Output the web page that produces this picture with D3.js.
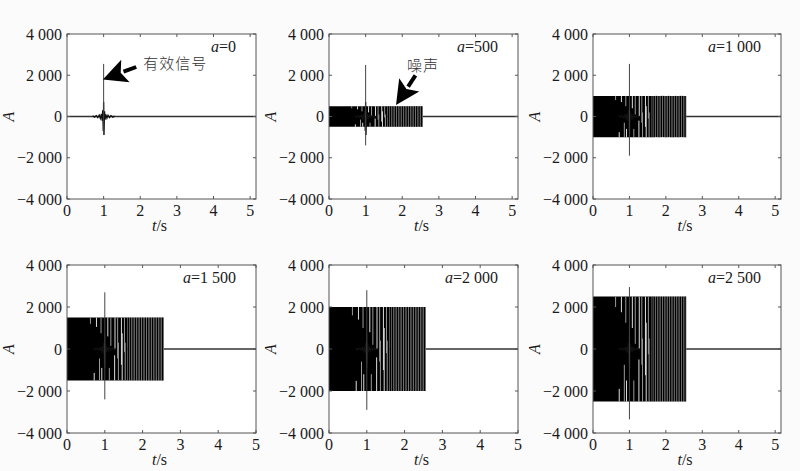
<!DOCTYPE html>
<html><head><meta charset="utf-8">
<script src="https://cdn.jsdelivr.net/npm/d3@7"></script>
<style>
body{margin:0;background:#fbfbfb}svg{display:block}
.serif{font-family:"Liberation Serif","DejaVu Serif",serif;font-size:16px;fill:#1a1a1a}
.cjk{font-family:"Noto Sans CJK SC",sans-serif;font-size:15px;font-weight:300;fill:#333}
</style>
</head><body><svg id="c" width="800" height="471"></svg>
<script>
// ---- data ----
const amplitudes = [0, 500, 1000, 1500, 2000, 2500];
const ampLabels = ["0", "500", "1 000", "1 500", "2 000", "2 500"];
const tDomainMax = [5.16, 5.16, 5.16, 5, 5, 5.16];
const tTicks = [0, 1, 2, 3, 4, 5];
const aTicks = [-4000, -2000, 0, 2000, 4000];
const aTickLabels = ["\u22124 000", "\u22122 000", "0", "2 000", "4 000"];
const spikeT = 1.0;
const spikeUp = [2550, 2500, 2550, 2700, 2800, 2950];
const spikeDown = [-900, -1400, -1900, -2400, -2900, -3350];
const noiseDenseSpan = [0, 1.6];
const noiseSparseSpan = [1.6, 2.55];
const noiseLinesDark = [1.62, 1.68, 1.745, 1.81, 1.875, 1.94, 2.005, 2.07, 2.135, 2.2, 2.265, 2.33, 2.395, 2.46, 2.525];
const noiseLinesLight = [1.65, 1.712, 1.778, 1.843, 1.908, 1.972, 2.038, 2.103, 2.168, 2.232, 2.298, 2.362, 2.428, 2.492, 2.545];
const gapTop = [[0.62,0.1],[0.78,0.15],[0.9,0.25],[1.08,0.3],[1.16,0.45],[1.27,0.5],[1.34,0.65],[1.44,0.75],[1.52,0.55]];
const gapBottom = [[0.72,0.12],[0.86,0.35],[0.92,0.2],[1.12,0.2],[1.26,0.4],[1.36,0.6],[1.46,0.75],[1.54,0.6]];
const waveletT = [0.7, 0.75, 0.8, 0.84, 0.88, 0.91, 0.94, 0.96, 0.975, 0.99, 1.0, 1.01, 1.025, 1.04, 1.06, 1.09, 1.12, 1.16, 1.2, 1.25, 1.3];
const waveletV = [30, -30, 40, -50, 70, -90, 120, -200, 300, -700, 700, -900, 250, -150, 100, -80, 60, -50, 40, -30, 20];
const annotations = [
  {panel: 0, text: "有效信号", tip: [0.98, 1800], tail: [1.89, 2400], label: [2.08, 2300]},
  {panel: 1, text: "噪声", tip: [1.83, 560], tail: [2.36, 1990], label: [2.13, 2210]}
];

// ---- layout ----
const colLeft = [67, 329, 593], colWidth = [189, 189, 188];
const rowTop = [34, 265], rowHeight = [165, 168];
const frameColor = "#555";

const svg = d3.select("#c");
svg.append("rect").attr("width", 800).attr("height", 471).attr("fill", "#fbfbfb");

amplitudes.forEach((a, i) => {
  const col = i % 3, row = Math.floor(i / 3);
  const W = colWidth[col], H = rowHeight[row];
  const x = d3.scaleLinear().domain([0, tDomainMax[i]]).range([0, W]);
  const y = d3.scaleLinear().domain([-4000, 4000]).range([H, 0]);
  const g = svg.append("g").attr("transform", `translate(${colLeft[col]},${rowTop[row]})`);
  const cid = "clip" + i;
  g.append("clipPath").attr("id", cid).append("rect").attr("width", W).attr("height", H);
  g.append("rect").attr("width", W).attr("height", H).attr("fill", "#fff");
  const p = g.append("g").attr("clip-path", `url(#${cid})`);

  // baseline
  p.append("path").datum([0, tDomainMax[i]])
    .attr("d", d3.line().x(d => x(d)).y(() => y(0)))
    .attr("stroke", "#333").attr("stroke-width", 1.4).attr("fill", "none");

  if (a > 0) {
    const band = d3.area().x(d => x(d)).y0(y(-a)).y1(y(a));
    p.append("path").datum(noiseDenseSpan).attr("d", band).attr("fill", "#000");
    p.append("path").datum(noiseSparseSpan).attr("d", band).attr("fill", "#d4d4d4");
    gapTop.forEach((d, k) => {
      p.append("line").attr("x1", x(d[0])).attr("x2", x(d[0]))
        .attr("y1", y(a)).attr("y2", y(a * (1 - 2 * d[1])))
        .attr("stroke", k % 2 ? "#ddd" : "#999").attr("stroke-width", 1);
    });
    gapBottom.forEach((d, k) => {
      p.append("line").attr("x1", x(d[0])).attr("x2", x(d[0]))
        .attr("y1", y(-a)).attr("y2", y(-a * (1 - 2 * d[1])))
        .attr("stroke", k % 2 ? "#999" : "#ddd").attr("stroke-width", 1);
    });
    noiseLinesLight.forEach(t => {
      p.append("line").attr("x1", x(t)).attr("x2", x(t)).attr("y1", y(-a)).attr("y2", y(a))
        .attr("stroke", "#7a7a7a").attr("stroke-width", 1.3);
    });
    noiseLinesDark.forEach(t => {
      p.append("line").attr("x1", x(t)).attr("x2", x(t)).attr("y1", y(-a)).attr("y2", y(a))
        .attr("stroke", "#000").attr("stroke-width", 1.5);
    });
  }

  // effective signal
  p.append("path").datum(d3.zip(waveletT, waveletV))
    .attr("d", d3.line().x(d => x(d[0])).y(d => y(d[1])))
    .attr("stroke", "#111").attr("stroke-width", 1.3).attr("fill", "none");
  p.append("line").attr("x1", x(spikeT)).attr("x2", x(spikeT))
    .attr("y1", y(spikeDown[i])).attr("y2", y(spikeUp[i]))
    .attr("stroke", "#444").attr("stroke-width", 1);

  // frame
  g.append("rect").attr("width", W).attr("height", H).attr("fill", "none")
    .attr("stroke", frameColor).attr("stroke-width", 1);

  // ticks (inward, all sides)
  tTicks.filter(t => t <= tDomainMax[i]).forEach(t => {
    g.append("line").attr("x1", x(t)).attr("x2", x(t)).attr("y1", H).attr("y2", H - 3).attr("stroke", frameColor);
    g.append("line").attr("x1", x(t)).attr("x2", x(t)).attr("y1", 0).attr("y2", 3).attr("stroke", frameColor);
    g.append("text").attr("class", "serif").attr("x", x(t)).attr("y", H + 17).attr("text-anchor", "middle").text(t);
  });
  aTicks.forEach((v, k) => {
    g.append("line").attr("x1", 0).attr("x2", 3).attr("y1", y(v)).attr("y2", y(v)).attr("stroke", frameColor);
    g.append("line").attr("x1", W).attr("x2", W - 3).attr("y1", y(v)).attr("y2", y(v)).attr("stroke", frameColor);
    g.append("text").attr("class", "serif").attr("x", -5).attr("y", y(v)).attr("dy", "0.35em")
      .attr("text-anchor", "end").text(aTickLabels[k]);
  });

  // axis titles
  const xt = g.append("text").attr("class", "serif").attr("x", W / 2 - 2).attr("y", H + 32).attr("text-anchor", "middle");
  xt.append("tspan").attr("font-style", "italic").text("t");
  xt.append("tspan").text("/s");
  g.append("text").attr("class", "serif").attr("transform", `translate(-53,${H / 2}) rotate(-90)`)
    .attr("text-anchor", "middle").attr("font-style", "italic").text("A");

  // panel label
  const lt = g.append("text").attr("class", "serif").attr("x", W - 20).attr("y", 18).attr("text-anchor", "end");
  lt.append("tspan").attr("font-style", "italic").text("a");
  lt.append("tspan").text("=" + ampLabels[i]);

  // annotations
  annotations.filter(an => an.panel === i).forEach(an => {
    const tip = [x(an.tip[0]), y(an.tip[1])], tail = [x(an.tail[0]), y(an.tail[1])];
    const dx = tail[0] - tip[0], dy = tail[1] - tip[1], L = Math.hypot(dx, dy);
    const ux = dx / L, uy = dy / L, nx = -uy, ny = ux;
    const hl = 24, hw = 12;
    const base = [tip[0] + ux * hl, tip[1] + uy * hl];
    g.append("line").attr("x1", base[0] - ux * 2).attr("y1", base[1] - uy * 2)
      .attr("x2", tail[0]).attr("y2", tail[1]).attr("stroke", "#000").attr("stroke-width", 4);
    g.append("path").attr("d", `M${tip[0]},${tip[1]}L${base[0] + nx * hw},${base[1] + ny * hw}L${base[0] - ux * 5},${base[1] - uy * 5}L${base[0] - nx * hw},${base[1] - ny * hw}Z`)
      .attr("fill", "#000");
    g.append("text").attr("class", "cjk").attr("x", x(an.label[0])).attr("y", y(an.label[1]))
      .attr("letter-spacing", 1).text(an.text);
  });
});
</script></body></html>
